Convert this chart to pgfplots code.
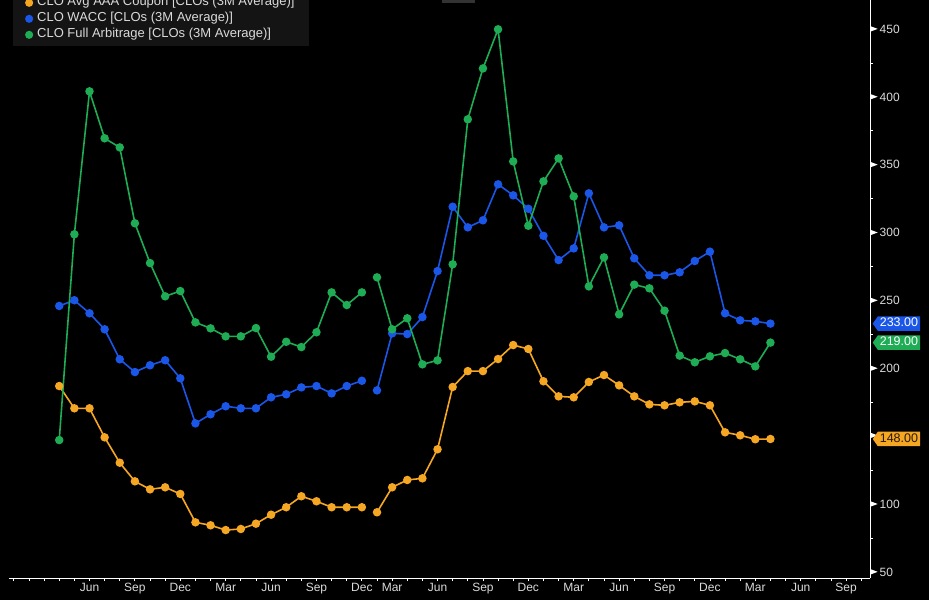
\documentclass[border=0pt]{standalone}
\usepackage{pgfplots}
\pgfplotsset{compat=1.18}
\usepackage{fontspec}
\setmainfont{Liberation Sans}
\usetikzlibrary{shapes.symbols}
\definecolor{cOr}{HTML}{F5A623}
\definecolor{cBl}{HTML}{1A56E8}
\definecolor{cGr}{HTML}{1EAD55}
\definecolor{cTx}{HTML}{DADADA}
\definecolor{legbg}{HTML}{141414}
\newcommand{\tri}{\tikz[baseline={(0,-4.3pt)}]\fill[white] (0,-2.6pt)--(7pt,0)--(0,2.6pt)--cycle;}
\begin{document}
\begin{tikzpicture}[x=1pt,y=1pt]
\fill[black] (0,0) rectangle (929,600);
\path[use as bounding box] (0,0) rectangle (929,600);
\fill[black!80!white] (442,597) rectangle (475,600);
\begin{axis}[
  at={(9pt,22pt)}, anchor=south west,
  scale only axis, width=861pt, height=578pt,
  xmin=-3.32, xmax=53.58, ymin=45.58, ymax=471.4,
  axis x line*=bottom, axis y line*=right,
  axis line style={white, line width=0.9pt},
  clip=false,
  unbounded coords=jump,
  major tick length=0pt, minor tick length=3pt, tick align=outside,
  tick style={white, line width=0.8pt},
  xtick={2,5,8,11,14,17,20,22,25,28,31,34,37,40,43,46,49,52},
  xticklabels={Jun,Sep,Dec,Mar,Jun,Sep,Dec,Mar,Jun,Sep,Dec,Mar,Jun,Sep,Dec,Mar,Jun,Sep},
  minor xtick={-3,-2,...,53},
  ytick={50,100,200,250,300,350,400,450},
  minor ytick={75,125,...,425},
  extra y ticks={150},
  extra y tick labels={\tri},
  /pgf/number format/assume math mode=true,
  tick label style={font=\fontsize{12}{14}\selectfont, text=cTx},
  xticklabel style={yshift=-1.5pt},
  yticklabel style={anchor=west, inner xsep=0pt, xshift=0.5pt},
  yticklabel={\tri\,\pgfmathprintnumber{\tick}},
  legend cell align=left,
  legend image code/.code={\fill (0pt,0pt) circle (3.2pt);},
  legend style={at={(0.0046,0.9204)}, anchor=south west, fill=legbg, draw=none,
    text=cTx, font=\fontsize{13}{15}\selectfont, inner xsep=12pt, inner ysep=3pt,
    row sep=0pt, column sep=2pt,
    nodes={inner ysep=1.5pt, text height=9.5pt, text depth=3.5pt}},
]
\addplot[cOr, line width=1.6pt, mark=*, mark size=3.4pt] coordinates {
(0,187) (1,170.6) (2,170.6) (3,149.2) (4,130.5) (5,116.8) (6,110.9) (7,112.4) (8,107.5) (9,86.6)
(10,84.4) (11,80.9) (12,81.7) (13,85.6) (14,92.2) (15,97.7) (16,105.8) (17,102.1) (18,97.7) (19,97.7) (20,97.7)
(20.5,nan)
(21,94) (22,112.4) (23,117.8) (24,119) (25,140.4) (26,186.3) (27,198) (28,198) (29,206.9) (30,217.2)
(31,214.3) (32,190.5) (33,179.4) (34,178.7) (35,190) (36,195.1) (37,187.5) (38,179.4) (39,173.5) (40,172.8)
(41,175) (42,175.7) (43,172.8) (44,152.9) (45,150.7) (46,147.8) (47,148)
};
\addlegendentry{CLO Avg AAA Coupon [CLOs (3M Average)]}
\addplot[cBl, line width=1.6pt, mark=*, mark size=3.4pt] coordinates {
(0,246) (1,250.2) (2,240.6) (3,228.8) (4,206.7) (5,197.3) (6,202.3) (7,206) (8,192.7) (9,159.5)
(10,166.2) (11,172.1) (12,170.6) (13,170.6) (14,178.7) (15,180.9) (16,186) (17,187) (18,181.6) (19,187) (20,190.9)
(20.5,nan)
(21,183.8) (22,225.8) (23,225.3) (24,237.8) (25,271.7) (26,319.1) (27,303.9) (28,309.1) (29,335.6) (30,327.5)
(31,317.6) (32,297.7) (33,279.8) (34,288.4) (35,329) (36,303.9) (37,305.4) (38,281.1) (39,268.6) (40,268.6)
(41,270.8) (42,279.1) (43,286) (44,240.6) (45,235.4) (46,234.7) (47,233)
};
\addlegendentry{CLO WACC [CLOs (3M Average)]}
\addplot[cGr, line width=1.6pt, mark=*, mark size=3.4pt] coordinates {
(0,147.2) (1,298.8) (2,404.1) (3,369.5) (4,362.8) (5,306.9) (6,277.6) (7,253.1) (8,257) (9,233.9)
(10,229.5) (11,223.6) (12,223.6) (13,229.7) (14,208.6) (15,219.6) (16,215.7) (17,226.6) (18,256) (19,246.7) (20,256)
(20.5,nan)
(21,267.1) (22,228.8) (23,236.9) (24,203) (25,205.9) (26,276.7) (27,383.5) (28,421) (29,449.8) (30,352.5)
(31,305.1) (32,337.8) (33,354.7) (34,326.7) (35,260.4) (36,281.8) (37,239.8) (38,261.7) (39,259) (40,242.5)
(41,209.4) (42,204.5) (43,208.9) (44,211.3) (45,206.7) (46,201.5) (47,219)
};
\addlegendentry{CLO Full Arbitrage [CLOs (3M Average)]}
\foreach \xx in {8,20,31,43} {
  \edef\tmp{\noexpand\draw[white, line width=0.8pt] (axis cs:\xx,45.58) ++(0,-18.5pt) -- ++(0,-6pt);}\tmp
}
\node[signal, signal to=west, signal pointer angle=110, fill=cBl, text=white, anchor=west,
  inner xsep=2pt, inner ysep=1.5pt, text height=9pt, text depth=2.5pt,
  font=\fontsize{12.5}{14}\selectfont, xshift=2.5pt] at (axis cs:53.58,233) {233.00};
\node[signal, signal to=west, signal pointer angle=110, fill=cGr, text=white, anchor=west,
  inner xsep=2pt, inner ysep=1.5pt, text height=9pt, text depth=2.5pt,
  font=\fontsize{12.5}{14}\selectfont, xshift=2.5pt] at (axis cs:53.58,219) {219.00};
\node[signal, signal to=west, signal pointer angle=110, fill=cOr, text=black!80!brown, anchor=west,
  inner xsep=2pt, inner ysep=1.5pt, text height=9pt, text depth=2.5pt,
  font=\fontsize{12.5}{14}\selectfont, xshift=2.5pt] at (axis cs:53.58,148) {148.00};
\end{axis}
\end{tikzpicture}
\end{document}
